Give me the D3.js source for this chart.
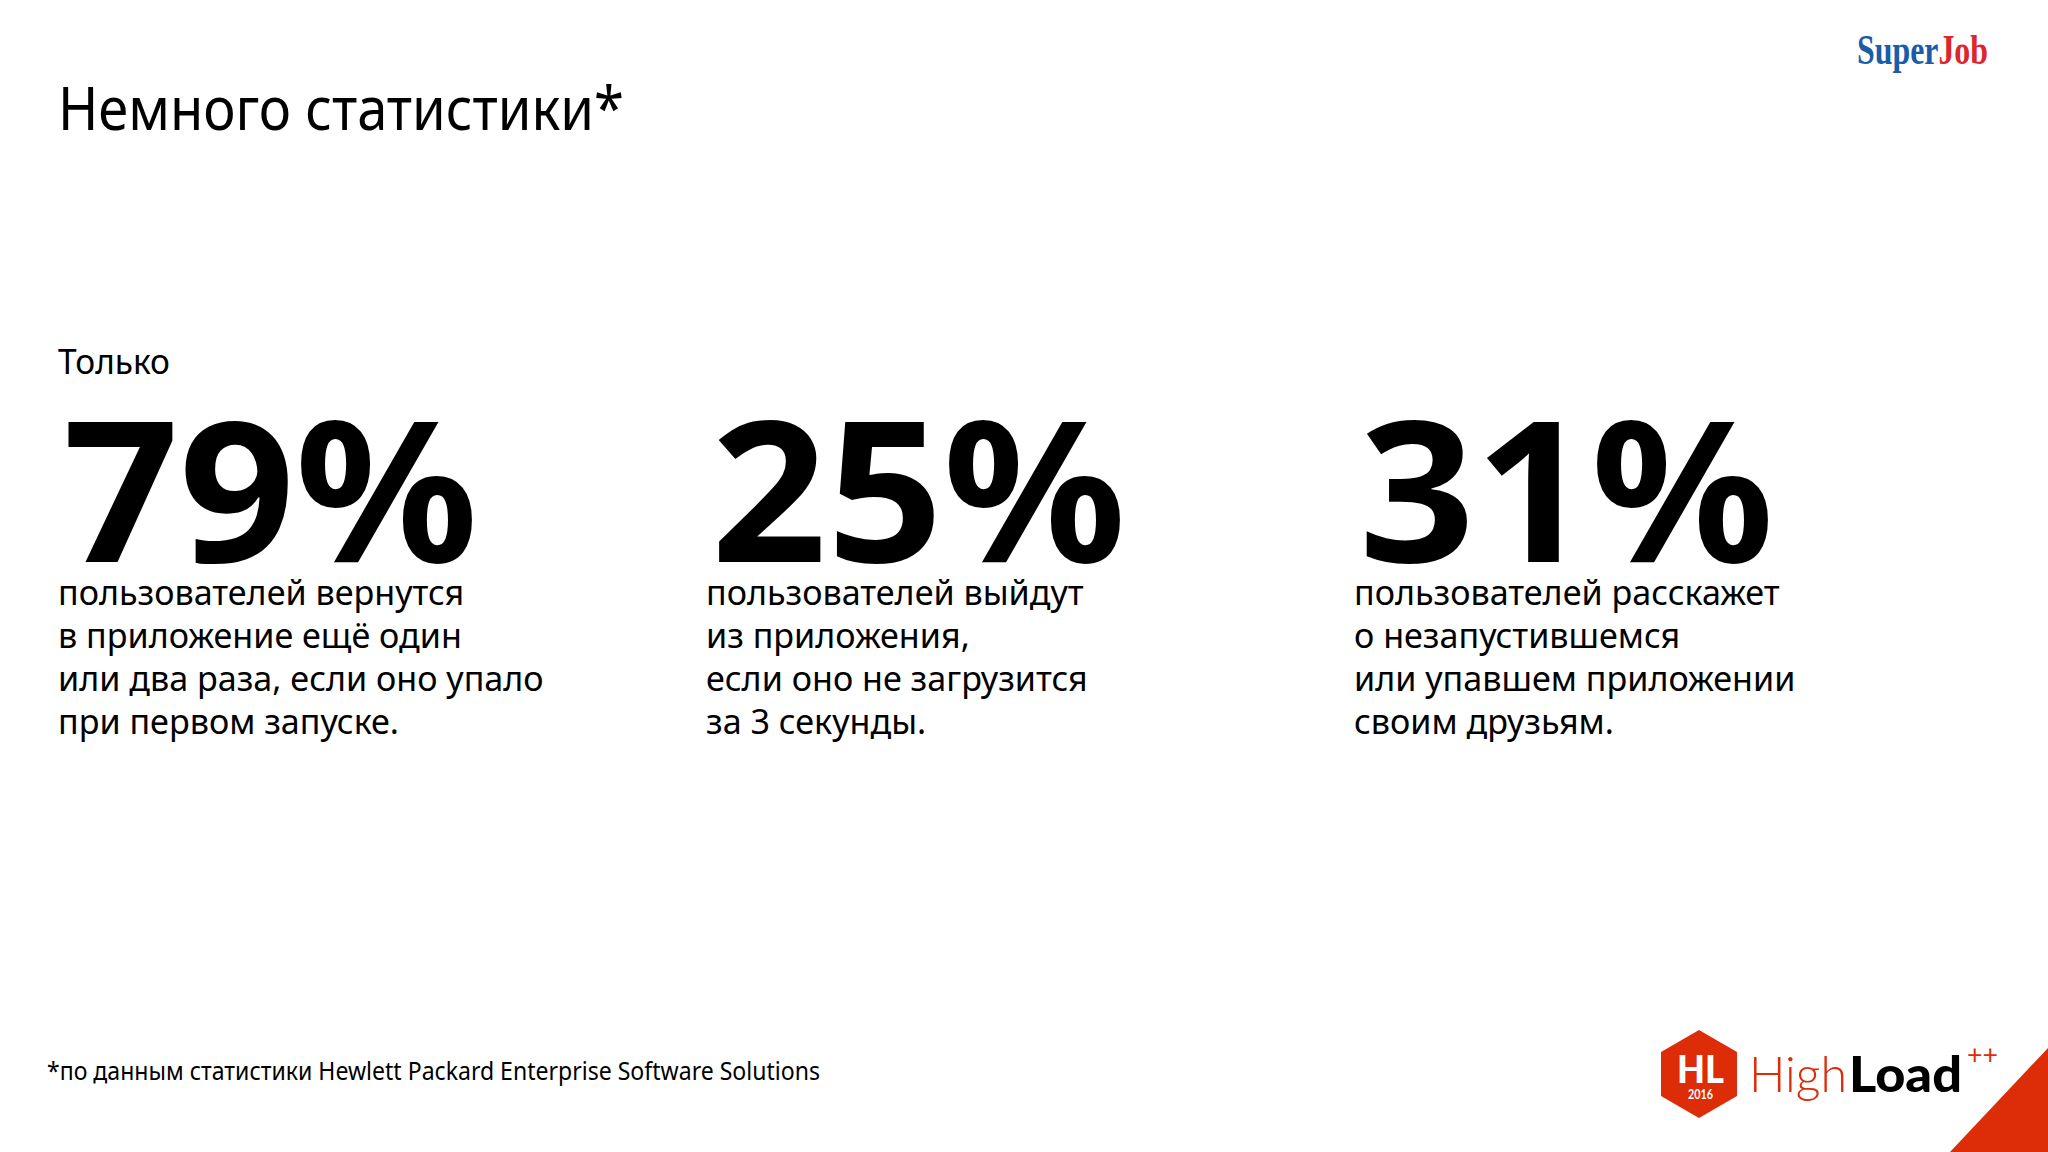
<!DOCTYPE html>
<meta charset="utf-8">
<script src="https://d3js.org/d3.v7.min.js"></script>
<style>
body { margin: 0; background: #fff; }
text { font-family: "Noto Sans", sans-serif; fill: #000; }
</style>
<body>
<div id="my_dataviz"></div>
<script>
// slide data
var columns = ["returning", "leaving", "telling"];
var percents = [79, 25, 31];
var captions = [
  ["пользователей вернутся", "в приложение ещё один", "или два раза, если оно упало", "при первом запуске."],
  ["пользователей выйдут", "из приложения,", "если оно не загрузится", "за 3 секунды."],
  ["пользователей расскажет", "о незапустившемся", "или упавшем приложении", "своим друзьям."]
];
var titleText = "Немного статистики*";
var leadText = "Только";
var footnote = "*по данным статистики Hewlett Packard Enterprise Software Solutions";

var width = 2048, height = 1152, red = "#dc2c08";

var svg = d3.select("#my_dataviz").append("svg")
  .attr("width", width).attr("height", height)
  .style("display", "block");

// squeeze a text to a measured width, the original font is narrower
function fit(sel, w) {
  sel.attr("textLength", w).attr("lengthAdjust", "spacingAndGlyphs");
  return sel;
}

var x = d3.scaleBand().domain(columns).range([58, 58 + 648 * 3]);
var lineY = d3.scaleLinear().domain([0, 3]).range([605, 734]);

fit(svg.append("text").attr("x", 58).attr("y", 130).attr("font-size", 60).text(titleText), 566);
fit(svg.append("text").attr("x", 58).attr("y", 374).attr("font-size", 35).text(leadText), 112);

var col = svg.selectAll("g.col").data(columns).enter().append("g")
  .attr("class", "col")
  .attr("transform", function(d) { return "translate(" + x(d) + ",0)"; });

col.append("text")
  .attr("x", 5)
  .attr("y", 562)
  .attr("font-size", 196)
  .attr("font-weight", 700)
  .text(function(d, i) { return percents[i] + "%"; })
  .each(function() { fit(d3.select(this), 415); });

col.each(function(d, i) {
  d3.select(this).selectAll("text.line").data(captions[i]).enter().append("text")
    .attr("class", "line")
    .attr("y", function(t, j) { return lineY(j); })
    .attr("font-size", 35)
    .attr("transform", "scale(0.975,1)")
    .text(function(t) { return t; });
});

fit(svg.append("text").attr("x", 47).attr("y", 1080).attr("font-size", 25).text(footnote), 773);

// SuperJob logo
var sj = svg.append("text").attr("x", 1857).attr("y", 64)
  .attr("font-size", 42).attr("font-weight", 700)
  .style("font-family", "'Liberation Serif', serif");
sj.append("tspan").style("fill", "#1a5ca8").text("Super");
sj.append("tspan").style("fill", "#e0242c").text("Job");
fit(sj, 131);

// HighLoad logo
var hex = [[1699, 1030], [1737, 1052], [1737, 1096], [1699, 1118], [1661, 1096], [1661, 1052]];
svg.append("path").attr("d", d3.line()(hex) + "Z").attr("fill", red);
fit(svg.append("text").attr("x", 1677).attr("y", 1083)
  .attr("font-size", 38).attr("font-weight", 900).style("fill", "#fff").style("font-family", "Lato").text("HL"), 47);
fit(svg.append("text").attr("x", 1688).attr("y", 1099)
  .attr("font-size", 13).attr("font-weight", 700).style("fill", "#fff").style("font-family", "Lato").text("2016"), 25);
fit(svg.append("text").attr("x", 1749).attr("y", 1092).attr("font-size", 50).attr("font-weight", 300)
  .style("fill", red).style("font-family", "Lato").text("High"), 98);
fit(svg.append("text").attr("x", 1849).attr("y", 1092).attr("font-size", 50).attr("font-weight", 900)
  .style("font-family", "Lato").text("Load"), 113);
fit(svg.append("text").attr("x", 1967).attr("y", 1064).attr("font-size", 26).attr("font-weight", 400)
  .style("fill", red).style("font-family", "Lato").text("++"), 31);

// corner triangle
svg.append("path").attr("d", d3.line()([[1950, 1152], [2048, 1048], [2048, 1152]]) + "Z").attr("fill", red);
</script>
</body>
